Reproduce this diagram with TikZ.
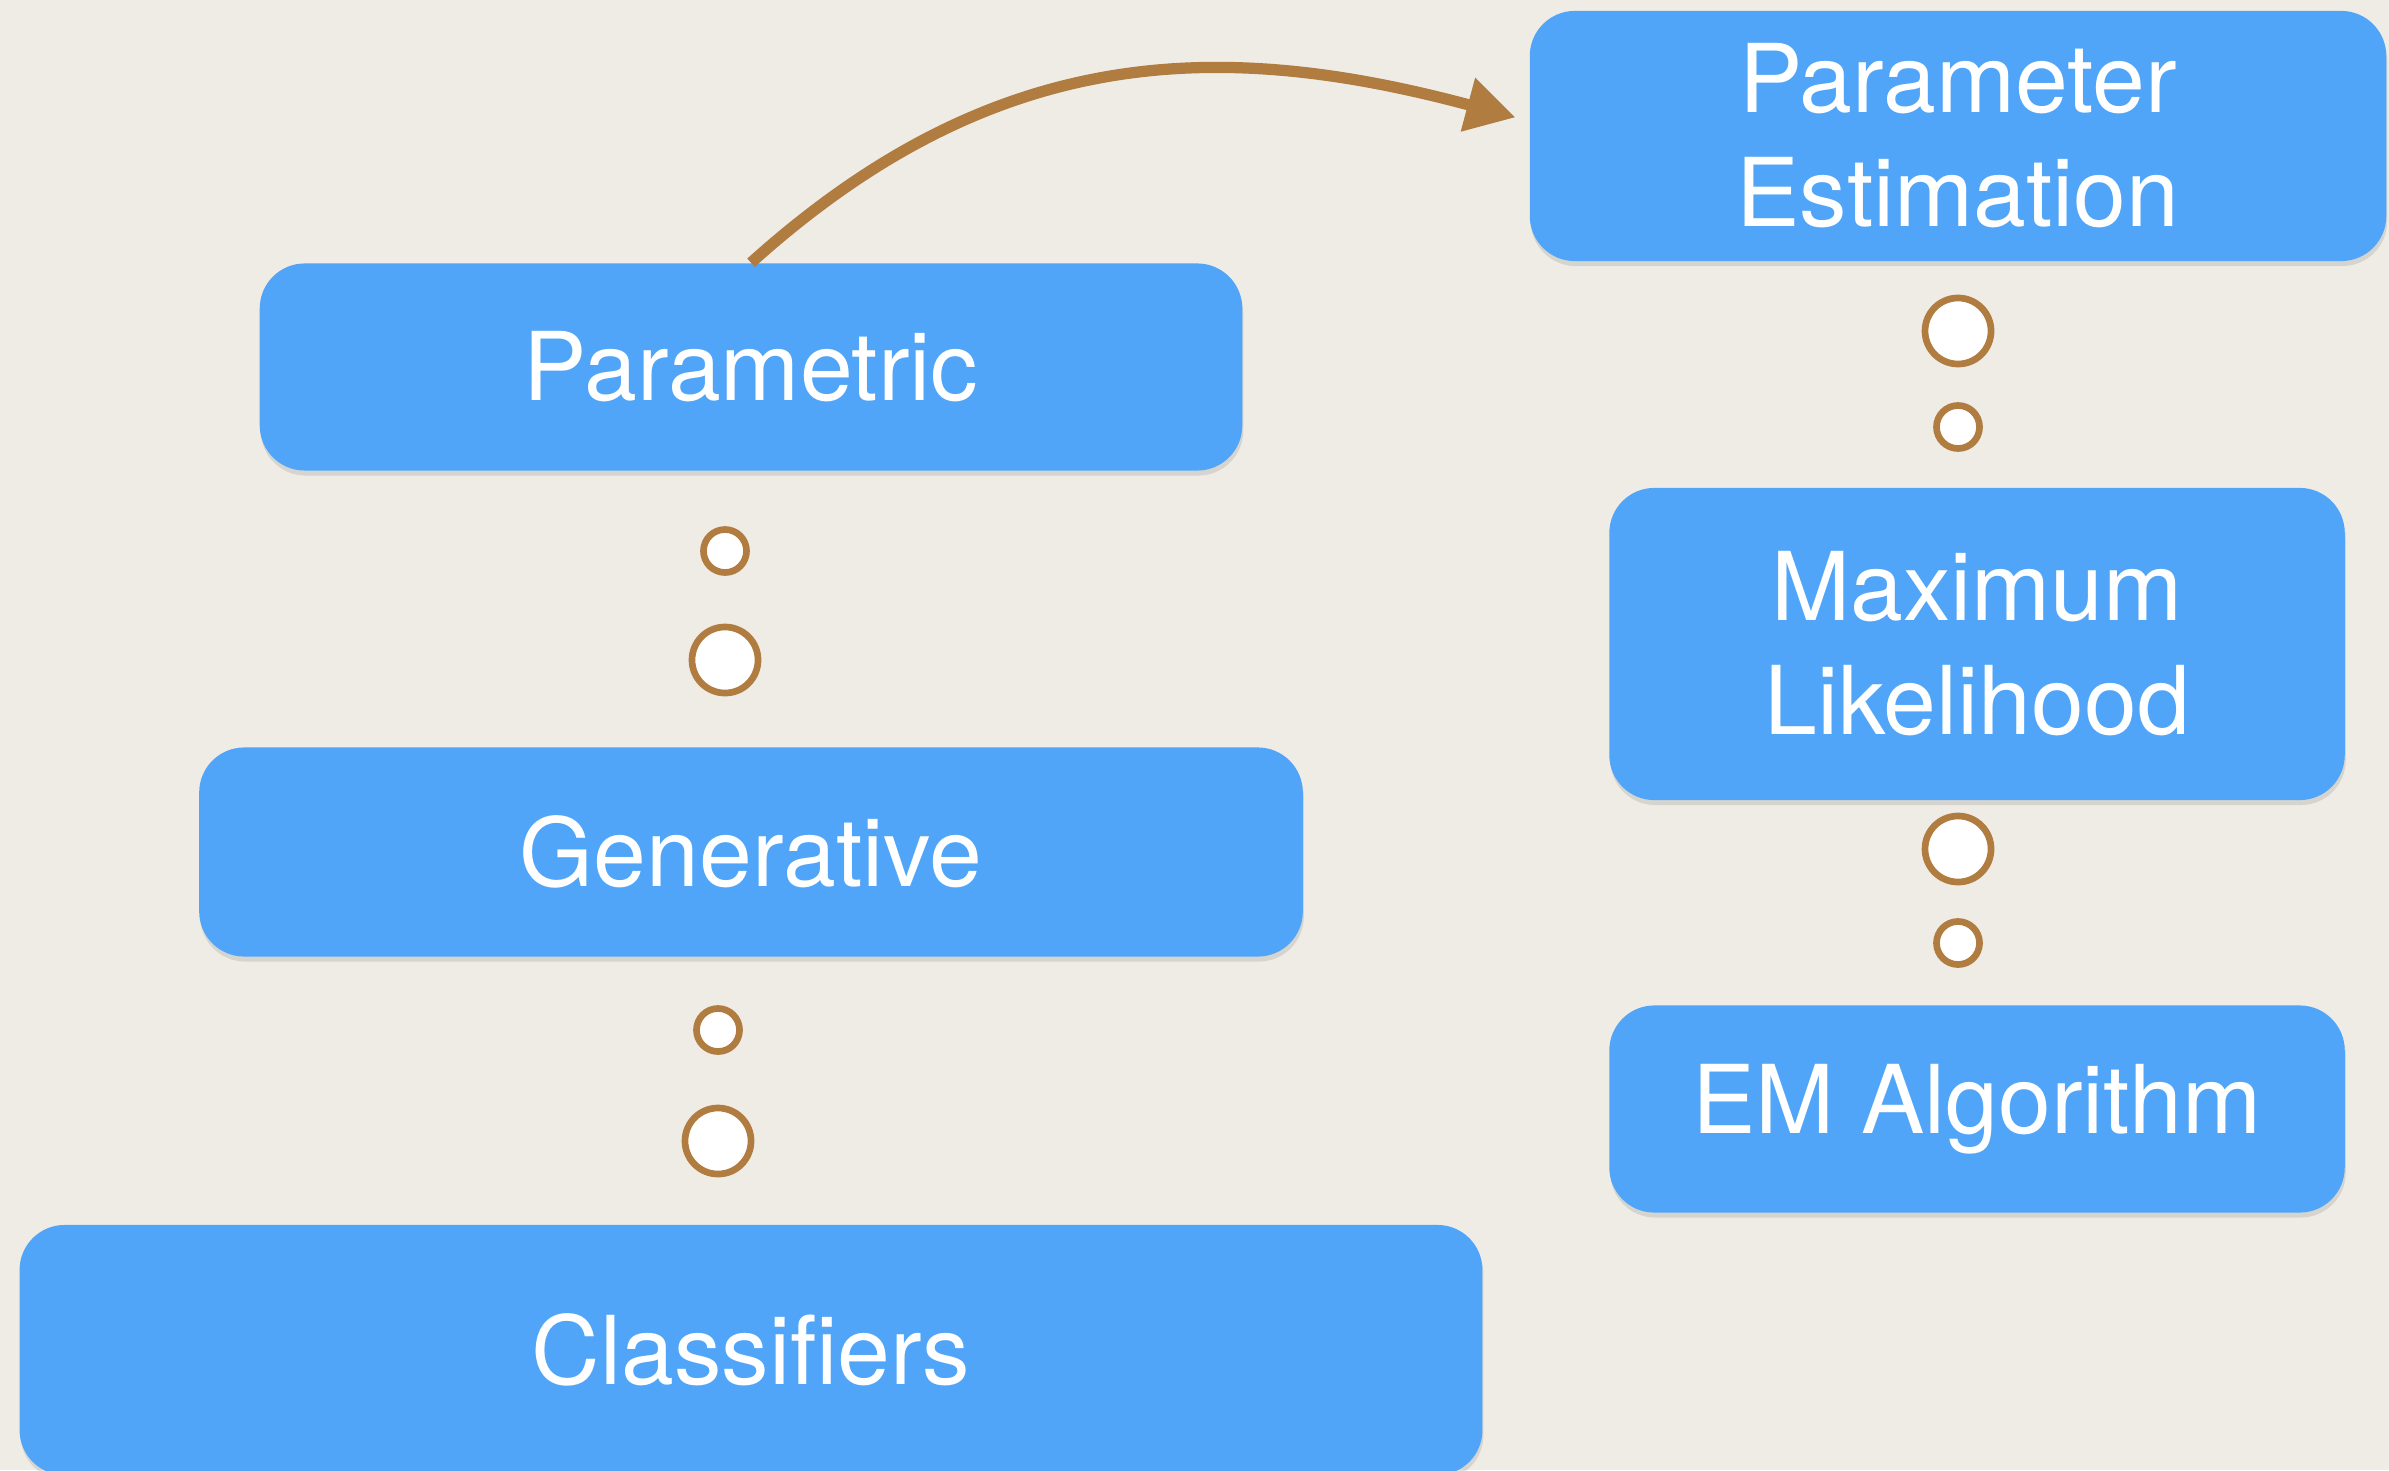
\documentclass[tikz,border=0pt]{standalone}
\usepackage{fontspec}
\setmainfont{TeX Gyre Heros}
\usepackage{xcolor}
\usepackage{tikz}
\usetikzlibrary{positioning}
\usetikzlibrary{arrows.meta}
\usetikzlibrary{shadows}
\definecolor{paper}{RGB}{239,236,230}
\definecolor{boxblue}{RGB}{80,165,249}
\definecolor{dotbrown}{RGB}{176,124,64}

\begin{document}
\begin{tikzpicture}[x=0.01cm, y=-0.01cm,
        box/.style={rectangle, rounded corners=0.45cm, fill=boxblue, text=white,
            align=center, inner sep=0pt, font=\fontsize{27}{32.4}\selectfont,
            drop shadow={shadow xshift=0.01cm, shadow yshift=-0.05cm, opacity=0.22}},
        dot/.style={circle, draw=dotbrown, fill=white, line width=1.9pt, inner sep=0pt,
            drop shadow={shadow xshift=0.02cm, shadow yshift=-0.03cm, opacity=0.2}},
        bigdot/.style={dot, minimum size=0.66cm},
        smalldot/.style={dot, minimum size=0.43cm},
        link/.style={-{Triangle[length=14pt, width=15pt]}, color=dotbrown,
            line width=3.2pt, shorten >=4pt}]
            \fill [paper] (0,0) rectangle (2389,1470);
            \useasboundingbox (0,0) rectangle (2389,1470);

            \node [box, minimum width=9.82cm, minimum height=2.07cm] (param) at (751,367) {Parametric};
            \node [smalldot] (p1) at (725,551) {};
            \node [bigdot] (p2) at (725,660) {};
            \node [box, minimum width=11.03cm, minimum height=2.09cm] (gen) at (751,852) {Generative};
            \node [smalldot] (g1) at (718,1030) {};
            \node [bigdot] (g2) at (718,1141) {};
            \node [box, minimum width=14.62cm, minimum height=2.5cm] (cls) at (751,1350) {Classifiers};

            \node [box, minimum width=8.56cm, minimum height=2.5cm] (est) at (1958,136) {Parameter\\Estimation};
            \node [bigdot] (e1) at (1958,331) {};
            \node [smalldot] (e2) at (1958,427) {};
            \node [box, minimum width=7.35cm, minimum height=3.12cm] (ml) at (1977,644) {Maximum\\Likelihood};
            \node [bigdot] (m1) at (1958,849) {};
            \node [smalldot] (m2) at (1958,943) {};
            \node [box, minimum width=7.35cm, minimum height=2.07cm] (em) at (1977,1109) {EM Algorithm};

            \draw [link] (param.north) to [out=42, in=165, looseness=1.05] (est.178);

        \end{tikzpicture}
\end{document}
